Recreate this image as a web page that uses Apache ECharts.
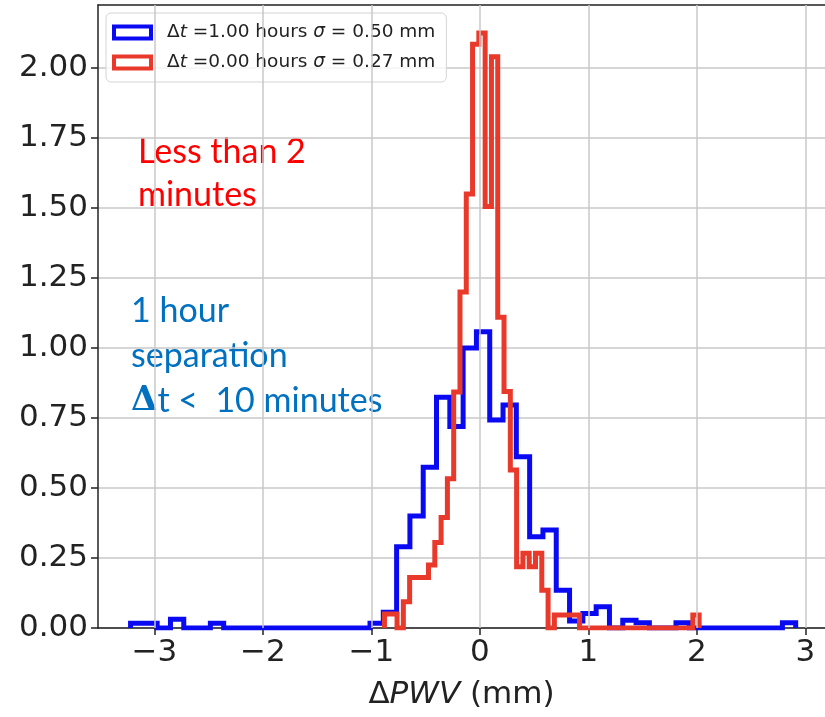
<!DOCTYPE html>
<html>
<head>
<meta charset="utf-8">
<script src="https://cdn.jsdelivr.net/npm/echarts@6/dist/echarts.min.js"></script>
<style>
  html, body { margin: 0; padding: 0; background: #fff; }
  #chart { width: 825px; height: 717px; }
</style>
</head>
<body>
<div id="chart"></div>
<script>
// legend labels
const blueLabel = 'Δt =1.00 hours σ = 0.50 mm';
const redLabel = 'Δt =0.00 hours σ = 0.27 mm';

// 1 hour separation histogram (50 bins)
const blueBinStart = -3.22;
const blueBinWidth = 0.1226;
const blueHeights = [
  0.017, 0.017, 0, 0.031, 0, 0, 0.017, 0, 0, 0,
  0, 0, 0, 0, 0, 0, 0, 0, 0.017, 0.056,
  0.29, 0.40, 0.574, 0.824, 0.72, 1.0, 1.058, 0.743, 0.796, 0.612,
  0.326, 0.35, 0.135, 0.025, 0.052, 0.076, 0, 0.028, 0.019, 0,
  0, 0.019, 0, 0, 0, 0, 0, 0, 0, 0.019
];

// less than 2 minutes histogram (50 bins)
const redBinStart = -0.88;
const redBinWidth = 0.058;
const redHeights = [
  0.05, 0.05, 0, 0.094, 0.18, 0.18, 0.18, 0.225, 0.305, 0.395,
  0.533, 0.843, 1.20, 1.55, 2.085, 2.125, 1.505, 2.04, 1.11, 0.845,
  0.564, 0.219, 0.267, 0.219, 0.267, 0.135, 0, 0.046, 0.046, 0.046,
  0.046, 0, 0, 0, 0, 0, 0, 0, 0, 0,
  0, 0, 0, 0, 0, 0, 0, 0, 0, 0.046
];

const xTicks = [-3, -2, -1, 0, 1, 2, 3];
const yTicks = [0, 0.25, 0.5, 0.75, 1.0, 1.25, 1.5, 1.75, 2.0];

const blueColor = '#0a0af2';
const redColor = '#e8392b';
const font = 'DejaVu Sans';

// outline of a step histogram, like histtype='step'
function stepOutline(start, width, heights) {
  const pts = [[start, 0]];
  heights.forEach((h, i) => {
    const left = start + i * width;
    pts.push([left, h], [left + width, h]);
  });
  pts.push([start + heights.length * width, 0]);
  return pts;
}

const legendText = name => '{g| }' + name.replace('Δt', 'Δ{i|t}').replace('σ', '{i|σ}');

const chart = echarts.init(document.getElementById('chart'));
const option = {
  animation: false,
  grid: { left: 98, right: 0, top: 5, bottom: 89 },
  xAxis: [{
    type: 'value',
    min: -3.52,
    max: 3.18,
    axisLine: { onZero: false, lineStyle: { color: '#222', width: 1.5 } },
    axisTick: { customValues: xTicks, length: 7, lineStyle: { color: '#222', width: 1.5 } },
    axisLabel: {
      customValues: xTicks,
      formatter: v => String(v).replace('-', '−'),
      fontFamily: font, fontSize: 31, color: '#222', margin: 9
    },
    splitLine: { show: false },
    name: 'Δ{i|PWV} (mm)',
    nameLocation: 'middle',
    nameGap: 51,
    nameTextStyle: {
      fontFamily: font, fontSize: 31, color: '#222',
      rich: { i: { fontFamily: font, fontSize: 31, fontStyle: 'italic', color: '#222' } }
    }
  }, {
    type: 'value',
    position: 'top',
    min: -3.52,
    max: 3.18,
    axisLine: { onZero: false, lineStyle: { color: '#222', width: 1.5 } },
    axisTick: { show: false },
    axisLabel: { show: false },
    splitLine: { show: false }
  }],
  yAxis: {
    type: 'value',
    min: 0,
    max: 2.225,
    interval: 0.25,
    axisLine: { show: true, onZero: false, lineStyle: { color: '#222', width: 1.5 } },
    axisTick: { show: true, customValues: yTicks, length: 7, lineStyle: { color: '#222', width: 1.5 } },
    axisLabel: {
      customValues: yTicks,
      formatter: v => v.toFixed(2),
      fontFamily: font, fontSize: 31, color: '#222', margin: 10
    },
    splitLine: { lineStyle: { color: '#c8c8c8', width: 1.5 } }
  },
  legend: {
    orient: 'vertical',
    left: 106,
    top: 13,
    padding: [10, 11, 10, 6],
    itemGap: 11,
    itemWidth: 37,
    itemHeight: 12,
    icon: 'rect',
    backgroundColor: 'rgba(255,255,255,0.8)',
    borderColor: '#d4d4d4',
    borderWidth: 1,
    borderRadius: 5,
    formatter: legendText,
    textStyle: {
      fontFamily: font, fontSize: 18.5, color: '#222',
      rich: {
        g: { width: 11 },
        i: { fontFamily: font, fontSize: 18.5, fontStyle: 'italic', color: '#222' }
      }
    },
    data: [
      { name: blueLabel, itemStyle: { color: '#fff', borderColor: blueColor, borderWidth: 4 } },
      { name: redLabel, itemStyle: { color: '#fff', borderColor: redColor, borderWidth: 4 } }
    ]
  },
  graphic: [
    { type: 'text', x: 138, y: 152, style: { text: 'Less than 2', fill: '#ff0000', fontFamily: 'Lato', fontSize: 34, verticalAlign: 'middle' } },
    { type: 'text', x: 138, y: 195, style: { text: 'minutes', fill: '#ff0000', fontFamily: 'Lato', fontSize: 34, verticalAlign: 'middle' } },
    { type: 'text', x: 131, y: 311, style: { text: '1 hour', fill: '#0070c0', fontFamily: 'Lato', fontSize: 34, verticalAlign: 'middle' } },
    { type: 'text', x: 131, y: 356, style: { text: 'separation', fill: '#0070c0', fontFamily: 'Lato', fontSize: 34, verticalAlign: 'middle' } },
    {
      type: 'text', x: 131, y: 401,
      style: {
        text: '{d|Δ}t <  10 minutes', fill: '#0070c0', fontFamily: 'Lato', fontSize: 34, verticalAlign: 'middle',
        rich: { d: { fontFamily: 'DejaVu Serif', fontWeight: 'bold', fontSize: 34, fill: '#0070c0' } }
      }
    }
  ],
  series: [
    {
      // vertical grid lines at the x ticks
      type: 'line',
      data: [],
      silent: true,
      z: 1,
      markLine: {
        silent: true,
        symbol: ['none', 'none'],
        label: { show: false },
        lineStyle: { color: '#c8c8c8', width: 1.5, type: 'solid' },
        data: xTicks.map(v => ({ xAxis: v }))
      }
    },
    {
      name: blueLabel,
      type: 'line',
      data: stepOutline(blueBinStart, blueBinWidth, blueHeights),
      showSymbol: false,
      symbol: 'none',
      lineStyle: { color: blueColor, width: 5, join: 'miter' },
      itemStyle: { color: blueColor },
      z: 3
    },
    {
      name: redLabel,
      type: 'line',
      data: stepOutline(redBinStart, redBinWidth, redHeights),
      showSymbol: false,
      symbol: 'none',
      lineStyle: { color: redColor, width: 5, join: 'miter' },
      itemStyle: { color: redColor },
      z: 4
    }
  ]
};
chart.setOption(option);
</script>
</body>
</html>
